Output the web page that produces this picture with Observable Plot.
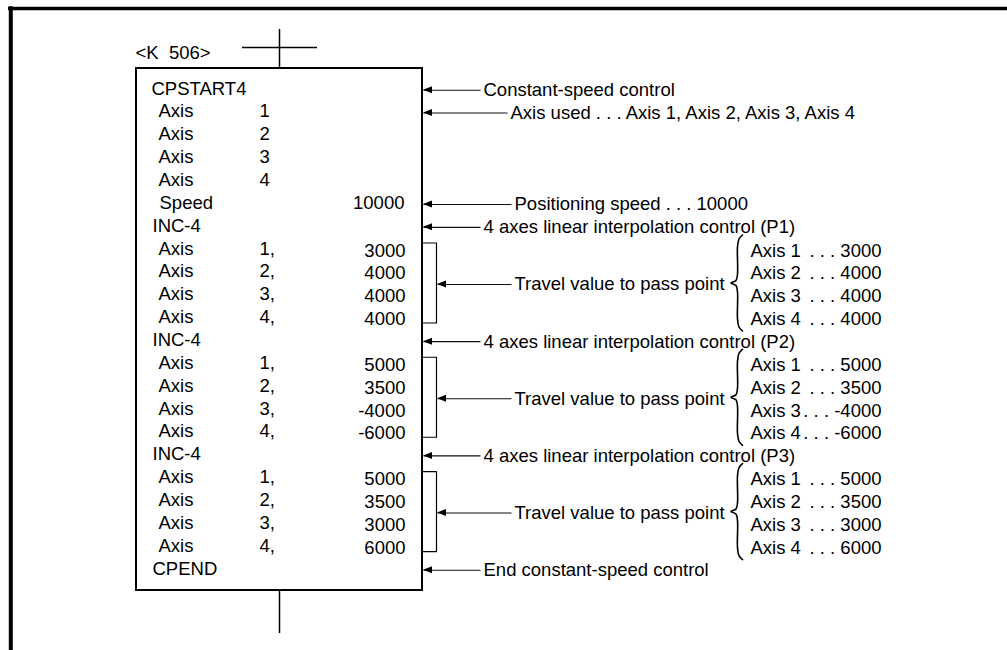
<!DOCTYPE html>
<html>
<head>
<meta charset="utf-8">
<script src="https://cdn.jsdelivr.net/npm/d3@7"></script>
<script src="https://cdn.jsdelivr.net/npm/@observablehq/plot@0.6"></script>
<style>
  html, body { margin: 0; padding: 0; background: #fff; }
  svg text { white-space: pre; }
</style>
</head>
<body>
<div id="chart"></div>
<script>
// ---------- data ----------
const header = "<K  506>";
const startInstruction = "CPSTART4";
const endInstruction = "CPEND";
const interpInstruction = "INC-4";
const axisLabel = "Axis";
const axesUsed = ["1", "2", "3", "4"];
const speedLabel = "Speed";
const speedValue = "10000";
const passPoints = ["P1", "P2", "P3"];
const travelP1 = ["3000", "4000", "4000", "4000"];
const travelP2 = ["5000", "3500", "-4000", "-6000"];
const travelP3 = ["5000", "3500", "3000", "6000"];
const noteStart = "Constant-speed control";
const noteAxes = "Axis used . . . Axis 1, Axis 2, Axis 3, Axis 4";
const noteSpeed = "Positioning speed . . . 10000";
const noteInterp = "4 axes linear interpolation control";
const noteTravel = "Travel value to pass point";
const noteEnd = "End constant-speed control";

// ---------- layout ----------
const W = 1007, H = 650;
const FONT = "'Liberation Sans', Arial, Helvetica, sans-serif";
const FS = 18.5;
const L = {
  rowTop: 88.2, rowStep: 22.857,
  colInstr: 151, colAxis: 158, colNum: 259, colValue: 405,
  box: {x1: 136, x2: 422, y1: 68, y2: 590},
  busX: 279,
  bracketX: 436, arrowLen: 9, arrowHalf: 3.5,
  braceX: 742, braceStem: 737, braceTip: 730.5, braceHalf: 48,
  braceTextL: 750, braceTextR: 881
};
const rowY = r => L.rowTop + L.rowStep * r;
const travel = [travelP1, travelP2, travelP3];

// program listing
const left = [], right = [];
left.push({x: L.colInstr, y: rowY(0), t: startInstruction});
axesUsed.forEach((a, i) => {
  left.push({x: L.colAxis, y: rowY(1 + i), t: axisLabel});
  left.push({x: L.colNum, y: rowY(1 + i), t: a});
});
left.push({x: L.colAxis + 1, y: rowY(5), t: speedLabel});
right.push({x: L.colValue - 1, y: rowY(5), t: speedValue});
travel.forEach((vals, k) => {
  const r0 = 6 + 5 * k;
  left.push({x: L.colInstr + 1, y: rowY(r0), t: interpInstruction});
  vals.forEach((v, i) => {
    left.push({x: L.colAxis, y: rowY(r0 + 1 + i), t: axisLabel});
    left.push({x: L.colNum, y: rowY(r0 + 1 + i), t: `${axesUsed[i]},`});
    right.push({x: L.colValue, y: rowY(r0 + 1 + i) + 2, t: v});
  });
});
left.push({x: L.colInstr + 1, y: rowY(21), t: endInstruction});

// annotations with arrows
const tipBox = L.box.x2 + 1, tipBracket = L.bracketX + 1;
const arrows = [
  {row: 0, tip: tipBox, tx: 483, t: noteStart},
  {row: 1, tip: tipBox, tx: 510, t: noteAxes},
  {row: 5, tip: tipBox, tx: 514, t: noteSpeed},
  ...passPoints.map((p, k) => ({row: 6 + 5 * k, tip: tipBox, tx: 483, t: `${noteInterp} (${p})`})),
  ...passPoints.map((p, k) => ({row: 8.5 + 5 * k, tip: tipBracket, tx: 514, t: noteTravel})),
  {row: 21, tip: tipBox, tx: 483, t: noteEnd}
].map((a, i) => ({...a, i, y: rowY(a.row) + 1.5, tail: a.tx - 3}));

const heads = arrows.flatMap(a => [
  {i: a.i, x: a.tip, y1: a.y, y2: a.y},
  {i: a.i, x: a.tip + L.arrowLen, y1: a.y - L.arrowHalf, y2: a.y + L.arrowHalf}
]);

// brackets & braces
const brackets = [], braces = [], braceL = [], braceR = [];
travel.forEach((vals, k) => {
  const mid = rowY(8.5 + 5 * k);
  const top = mid - 40, bot = mid + 40;
  [[L.box.x2, top], [L.bracketX, top], [L.bracketX, bot], [L.box.x2, bot]]
    .forEach(([x, y]) => brackets.push({k, x, y}));
  const T = mid - L.braceHalf, B = mid + L.braceHalf;
  [[L.braceX, T], [L.braceStem + 1.5, T + 4], [L.braceStem, T + 12], [L.braceStem, mid - 9],
   [L.braceStem - 1.5, mid - 2.5], [L.braceTip, mid], [L.braceStem - 1.5, mid + 2.5],
   [L.braceStem, mid + 9], [L.braceStem, B - 12], [L.braceStem + 1.5, B - 4], [L.braceX, B]]
    .forEach(([x, y]) => braces.push({k, x, y}));
  vals.forEach((v, i) => {
    const y = rowY(7 + 5 * k + i) + 2;
    braceL.push({y, t: `${axisLabel} ${axesUsed[i]}`});
    braceR.push({y, t: `. . . ${v}`});
  });
});

const txt = {fontFamily: FONT, fontSize: FS, fill: "#000", lineAnchor: "middle"};

const chart = Plot.plot({
  width: W, height: H, margin: 0,
  x: {domain: [0, W], range: [0, W], axis: null},
  y: {domain: [0, H], range: [0, H], axis: null},
  style: {background: "#fff", color: "#000", fontFamily: FONT, fontSize: "18px"},
  marks: [
    // outer frame
    Plot.ruleY([8], {x1: 8, x2: W, stroke: "#000", strokeWidth: 3.5}),
    Plot.ruleX([10.3], {y1: 6.3, y2: H, stroke: "#000", strokeWidth: 4}),
    // bus lines
    Plot.ruleY([47], {x1: 242, x2: 317, stroke: "#000", strokeWidth: 1.5}),
    Plot.ruleX([L.busX], {y1: 29, y2: L.box.y1, stroke: "#000", strokeWidth: 1.5}),
    Plot.ruleX([L.busX], {y1: L.box.y2, y2: 633, stroke: "#000", strokeWidth: 1.5}),
    // program box
    Plot.rect([L.box], {x1: "x1", x2: "x2", y1: "y1", y2: "y2", fill: "none", stroke: "#000", strokeWidth: 2}),
    Plot.text([header], {...txt, x: 135, y: 52.3, text: d => d, textAnchor: "start"}),
    Plot.text(left, {...txt, x: "x", y: "y", text: "t", textAnchor: "start"}),
    Plot.text(right, {...txt, x: "x", y: "y", text: "t", textAnchor: "end"}),
    // brackets
    Plot.line(brackets, {x: "x", y: "y", z: "k", stroke: "#000", strokeWidth: 1.2}),
    // arrows
    Plot.link(arrows, {x1: "tail", x2: "tip", y1: "y", y2: "y", stroke: "#111", strokeWidth: 1.1}),
    Plot.areaY(heads, {x: "x", y1: "y1", y2: "y2", z: "i", fill: "#000"}),
    Plot.text(arrows, {...txt, x: "tx", y: "y", text: "t", textAnchor: "start"}),
    // braces
    Plot.line(braces, {x: "x", y: "y", z: "k", curve: "catmull-rom", stroke: "#000", strokeWidth: 1.6}),
    Plot.text(braceL, {...txt, x: L.braceTextL, y: "y", text: "t", textAnchor: "start"}),
    Plot.text(braceR, {...txt, x: L.braceTextR, y: "y", text: "t", textAnchor: "end"})
  ]
});
document.getElementById("chart").appendChild(chart);
</script>
</body>
</html>
